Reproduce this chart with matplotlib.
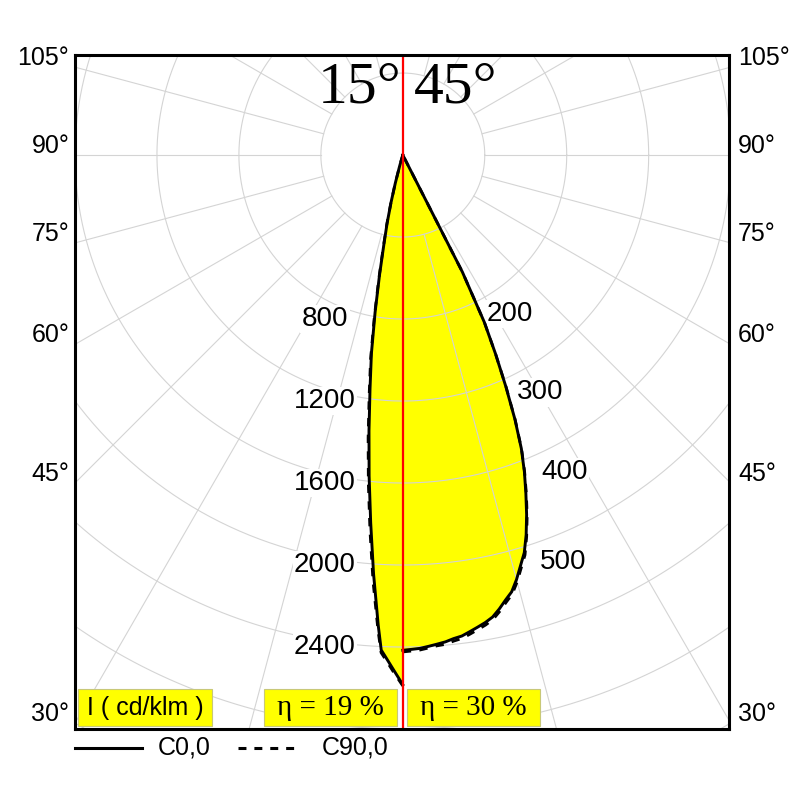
import numpy as np
import matplotlib
matplotlib.use("Agg")
import matplotlib.pyplot as plt
from matplotlib.patches import Rectangle, Polygon

# ---------------- data ----------------
# left half (scale: 400 cd/klm per ring), gamma in degrees from nadir
gamma_left = [0, 1, 2, 2.5, 3, 4, 5, 6, 7, 8, 9, 10, 11, 12, 13, 14, 15, 16, 17, 18, 90]
c0_left = [2584, 2514, 2448, 2417, 2296, 2048, 1800, 1574, 1355, 1150, 980, 780,
           596, 442, 340, 236, 140, 60, 20, 0, 0]
c90_left = [2590, 2525, 2460, 2430, 2320, 2085, 1840, 1610, 1390, 1180, 1005, 800,
            612, 455, 350, 242, 144, 62, 20, 0, 0]
# right half (scale: 100 cd/klm per ring)
gamma_right = [0, 1, 2, 3, 4, 5, 6, 7, 8, 9, 10, 11, 12, 13, 14, 15, 16, 17, 18, 19,
               20, 21, 22, 23, 24, 25, 26, 27, 28, 90]
c0_right = [604, 603, 602, 600, 598, 596, 593, 591, 587, 583, 579, 574, 566, 557, 549,
            536, 521, 507, 487, 464, 439, 414, 386, 350, 309, 268, 227, 160, 0, 0]
c90_right = [606, 605, 604, 602, 600, 599, 596, 594, 590, 586, 582, 577, 569, 560, 552,
             539, 524, 510, 489, 466, 441, 415, 387, 351, 310, 268, 227, 160, 0, 0]

left_ticks = [800, 1200, 1600, 2000, 2400]
right_ticks = [200, 300, 400, 500]
left_unit = 400.0
right_unit = 100.0
angle_ticks = [30, 45, 60, 75, 90, 105]
beam_left = "15°"
beam_right = "45°"
eta_left = "η = 19 %"
eta_right = "η = 30 %"
unit_label = "I ( cd/klm )"
legend_labels = ["C0,0", "C90,0"]

# ---------------- figure ----------------
SANS = ["Liberation Sans", "DejaVu Sans"]
SERIF = ["Liberation Serif", "DejaVu Serif"]

fig = plt.figure(figsize=(8, 8), dpi=100)
ax = fig.add_axes([75 / 800, 71 / 800, 654 / 800, 674 / 800])
XL, XR, YB, YT = -4.0, 3.98, -7.0, 1.22
ax.set_xlim(XL, XR)
ax.set_ylim(YB, YT)
ax.set_xticks([])
ax.set_yticks([])
for s in ax.spines.values():
    s.set_linewidth(2.2)
    s.set_color("black")
    s.set_zorder(10)


def to_xy(gam, val, unit, side):
    g = np.radians(np.asarray(gam, float))
    r = np.asarray(val, float) / unit
    return side * r * np.sin(g), -r * np.cos(g)


# fill (C0 curve both halves)
xr, yr = to_xy(gamma_right, c0_right, right_unit, 1)
xl, yl = to_xy(gamma_left, c0_left, left_unit, -1)
poly = np.column_stack([np.concatenate([xr, xl[::-1]]), np.concatenate([yr, yl[::-1]])])
ax.add_patch(Polygon(poly, closed=True, facecolor="#ffff00", edgecolor="none", zorder=1))

# grid
grid_c = "#d4d4d4"
t = np.linspace(0, 2 * np.pi, 721)
for k in range(1, 10):
    ax.plot(k * np.cos(t), k * np.sin(t), color=grid_c, lw=0.8, zorder=2)
for a in range(0, 360, 15):
    ar = np.radians(a)
    ax.plot([np.sin(ar) * 1, np.sin(ar) * 10], [-np.cos(ar) * 1, -np.cos(ar) * 10],
            color=grid_c, lw=0.8, zorder=2)

# curves
ax.plot(xr, yr, color="black", lw=2.1, zorder=5, solid_joinstyle="round")
ax.plot(xl, yl, color="black", lw=2.1, zorder=5, solid_joinstyle="round")
x9r, y9r = to_xy(gamma_right, c90_right, right_unit, 1)
x9l, y9l = to_xy(gamma_left, c90_left, left_unit, -1)
ax.plot(x9r, y9r, color="black", lw=2.0, ls=(0, (3, 3)), zorder=5)
ax.plot(x9l, y9l, color="black", lw=2.0, ls=(0, (3, 3)), zorder=5)

# red axis line
ax.axvline(0, color="#ff0000", lw=1.6, zorder=8)

# intensity labels
for v in left_ticks:
    ax.text(-0.95, -v / left_unit, str(v), ha="center", va="center", fontsize=20,
            family=SANS, zorder=4,
            bbox=dict(facecolor="white", edgecolor="none", pad=1))
right_label_angles = [34, 30, 27, 21.5]
for v, ang in zip(right_ticks, right_label_angles):
    rr = v / right_unit + 0.34
    ax.text(rr * np.sin(np.radians(ang)), -rr * np.cos(np.radians(ang)), str(v),
            ha="center", va="center", fontsize=20, family=SANS, zorder=4,
            bbox=dict(facecolor="white", edgecolor="none", pad=1))

# beam angles
ax.text(-0.02, 0.64, beam_left, ha="right", va="baseline", fontsize=43, family=SERIF, zorder=9)
ax.text(0.14, 0.64, beam_right, ha="left", va="baseline", fontsize=43, family=SERIF, zorder=9)

# angle labels outside frame
for a in angle_ticks:
    yv = -abs(XL) / np.tan(np.radians(a)) if a != 90 else 0.0
    yv += 0.11
    ax.text(XL - 0.07, yv, f"{a}°", ha="right", va="center", fontsize=18, family=SANS,
            clip_on=False)
    ax.text(XR + 0.11, yv, f"{a}°", ha="left", va="center", fontsize=18, family=SANS,
            clip_on=False)

# boxes at bottom
boxes = [((0.005, 0.004), 0.204, unit_label, SANS, 18),
         ((0.289, 0.004), 0.203, eta_left, SERIF, 21),
         ((0.508, 0.004), 0.203, eta_right, SERIF, 21)]
for (x0, y0), w, txt, fam, fs in boxes:
    h = 0.055
    ax.add_patch(Rectangle((x0, y0), w, h, transform=ax.transAxes, facecolor="#ffff00",
                           edgecolor="#c8c878", lw=0.8, zorder=9))
    ax.text(x0 + w / 2, y0 + h / 2, txt, transform=ax.transAxes, ha="center", va="center",
            fontsize=fs, family=fam, zorder=11)

# legend below
fig.lines.append(plt.Line2D([75 / 800, 142 / 800], [0.065, 0.065], transform=fig.transFigure,
                            color="black", lw=2.2))
fig.text(158 / 800, 0.065, legend_labels[0], ha="left", va="center", fontsize=18, family=SANS)
fig.lines.append(plt.Line2D([238 / 800, 295 / 800], [0.065, 0.065], transform=fig.transFigure,
                            color="black", lw=2.2, ls=(0, (2.6, 2.6))))
fig.text(322 / 800, 0.065, legend_labels[1], ha="left", va="center", fontsize=18, family=SANS)

fig.savefig("out.png", dpi=100, facecolor="white")
